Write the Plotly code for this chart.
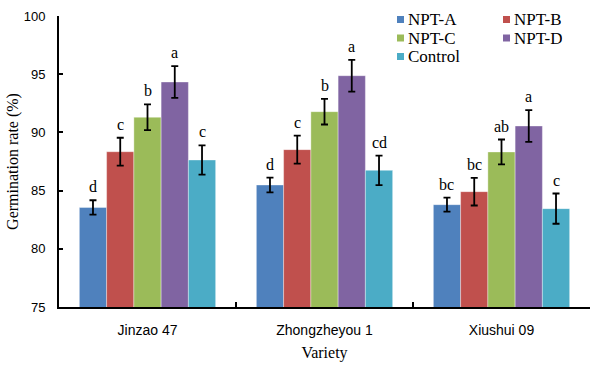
import plotly.graph_objects as go

varieties = ["Jinzao 47", "Zhongzheyou 1", "Xiushui 09"]
series_names = ["NPT-A", "NPT-B", "NPT-C", "NPT-D", "Control"]
colors = ["#4F81BD", "#C0504D", "#9BBB59", "#8064A2", "#4BACC6"]

npt_a = [83.55, 85.48, 83.79]
npt_b = [88.34, 88.52, 84.91]
npt_c = [91.30, 91.78, 88.32]
npt_d = [94.33, 94.87, 90.55]
control = [87.63, 86.74, 83.45]

err_a = [0.62, 0.63, 0.60]
err_b = [1.20, 1.20, 1.19]
err_c = [1.10, 1.10, 1.07]
err_d = [1.37, 1.36, 1.37]
err_control = [1.26, 1.27, 1.30]

letters_a = ["d", "d", "bc"]
letters_b = ["c", "c", "bc"]
letters_c = ["b", "b", "ab"]
letters_d = ["a", "a", "a"]
letters_control = ["c", "cd", "c"]

values = [npt_a, npt_b, npt_c, npt_d, control]
errors = [err_a, err_b, err_c, err_d, err_control]
letters = [letters_a, letters_b, letters_c, letters_d, letters_control]

W, H = 598, 367
ML, MR, MT, MB = 59, 8, 16, 60
PW, PH = W - ML - MR, H - MT - MB

bargap = 0.23
n = len(series_names)
bw = (1 - bargap) / n
serif = "Liberation Serif, Times New Roman, serif"
sans = "Liberation Sans, Arial, sans-serif"

fig = go.Figure()
for j in range(n):
    fig.add_trace(go.Bar(
        x=varieties, y=values[j], name=series_names[j], showlegend=False,
        marker=dict(color=colors[j], line=dict(color="rgba(255,255,255,0.6)", width=0.6)),
        error_y=dict(type="data", array=errors[j], visible=True,
                     color="black", thickness=1.8, width=3.5),
    ))

annotations = []
for j in range(n):
    for i in range(len(varieties)):
        xpos = i - (1 - bargap) / 2 + (j + 0.5) * bw
        annotations.append(dict(
            x=xpos, y=values[j][i] + errors[j][i], xref="x", yref="y",
            text=letters[j][i], showarrow=False, yanchor="bottom", yshift=3,
            font=dict(family=serif, size=16, color="black"),
        ))

# Legend drawn as a 2-column key (pixel layout converted to paper coords)
def px_x(p):
    return (p - ML) / PW

def px_y(p):
    return (H - MB - p) / PH

col_x = [397, 503]
row_y = [19.5, 38, 56.5]
shapes = []
for j, name in enumerate(series_names):
    c, r = j % 2, j // 2
    sx, sy = col_x[c], row_y[r]
    shapes.append(dict(type="rect", xref="paper", yref="paper",
                       x0=px_x(sx), x1=px_x(sx + 7), y0=px_y(sy + 3.5), y1=px_y(sy - 3.5),
                       fillcolor=colors[j], line=dict(width=0)))
    annotations.append(dict(x=px_x(sx + 10), y=px_y(sy), xref="paper", yref="paper",
                            text=name, showarrow=False, xanchor="left", yanchor="middle",
                            height=18, borderpad=0,
                            font=dict(family=serif, size=17, color="black")))

fig.update_layout(
    width=W, height=H,
    margin=dict(l=ML, r=MR, t=MT, b=MB),
    paper_bgcolor="white", plot_bgcolor="white",
    barmode="group", bargap=bargap, bargroupgap=0,
    annotations=annotations, shapes=shapes,
    showlegend=False,
    xaxis=dict(
        type="category", showline=True, linecolor="black", linewidth=1.8,
        ticks="inside", tickson="boundaries", ticklen=5, tickcolor="black", tickwidth=1.5,
        ticklabelstandoff=9, showgrid=False,
        tickfont=dict(family=sans, size=14, color="black"),
        title=dict(text="Variety", standoff=10,
                   font=dict(family=serif, size=16, color="black")),
    ),
    yaxis=dict(
        range=[75, 100], dtick=5, showline=True, linecolor="black", linewidth=1.8,
        ticks="inside", ticklen=4, tickcolor="black", tickwidth=1.5,
        ticklabelstandoff=9, showgrid=False, zeroline=False,
        tickfont=dict(family=sans, size=13, color="black"),
        title=dict(text="Germination rate (%)", standoff=1,
                   font=dict(family=serif, size=16, color="black")),
    ),
)

fig.write_html("out.html", config={"displayModeBar": False},
               post_script="document.body.style.margin='0';")
